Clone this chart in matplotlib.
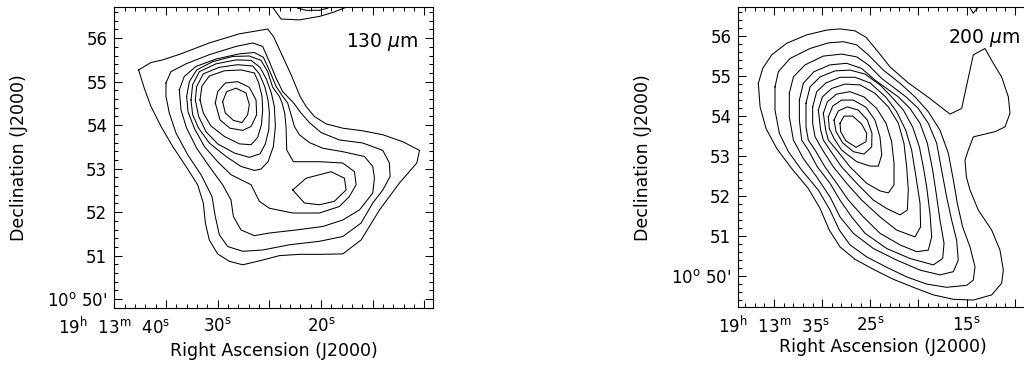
import matplotlib
matplotlib.use("Agg")
import matplotlib.pyplot as plt
from matplotlib.ticker import MultipleLocator, FuncFormatter

plt.rcParams['font.family'] = ['DejaVu Sans']
plt.rcParams['font.size'] = 12
plt.rcParams['mathtext.fontset'] = 'dejavusans'
plt.rcParams['axes.linewidth'] = 0.8

# RA in seconds after 19h13m, Dec in arcmin after +10 deg
# ---- 130 um map, closed contours (outer -> inner, then secondary peak)
c130_ra = [
    [37.65, 36.45, 35.32, 33.55, 30.81, 27.90, 25.16, 24.61, 23.87, 22.90, 22.03, 21.45, 20.65, 19.52,
     17.90, 15.97, 14.03, 12.10, 10.48, 10.74, 12.42, 14.35, 16.13, 17.90, 20.16, 22.10, 24.03, 25.97,
     27.58, 28.87, 30.00, 30.81, 31.19, 31.39, 31.94, 33.06, 34.35, 35.48, 36.45, 37.10],
    [35.00, 34.52, 33.06, 30.81, 28.23, 26.61, 25.65, 25.00, 24.35, 23.71, 22.65, 21.94, 21.13, 20.00,
     18.23, 15.97, 14.03, 13.39, 13.32, 14.03, 15.00, 16.13, 17.90, 20.16, 23.06, 25.65, 27.58, 29.03,
     29.84, 30.23, 30.55, 31.61, 32.90, 34.03, 34.68, 35.00],
    [33.71, 33.23, 32.10, 30.16, 27.90, 26.45, 25.58, 24.94, 24.35, 23.71, 23.23, 22.90, 22.58, 22.10,
     21.13, 19.84, 17.90, 15.81, 15.00, 14.84, 15.00, 16.29, 17.90, 19.84, 22.42, 25.00, 26.45, 27.74,
     28.48, 28.71, 29.52, 30.81, 32.03, 33.00, 33.55],
    [33.00, 32.74, 32.03, 30.48, 28.55, 26.94, 25.81, 25.16, 24.68, 24.03, 23.77, 23.52, 23.39, 23.32,
     22.68, 20.16, 17.90, 16.77, 16.61, 17.26, 18.23, 20.16, 22.74, 25.00, 25.97, 26.77, 28.71, 30.00,
     31.29, 32.26, 32.87],
    [32.58, 32.42, 31.77, 30.16, 28.23, 26.77, 25.90, 25.26, 24.81, 24.52, 24.42, 24.61, 25.13, 25.81,
     26.45, 27.74, 29.19, 30.81, 31.84, 32.42],
    [32.16, 32.03, 31.39, 29.84, 28.06, 26.61, 25.97, 25.45, 25.13, 25.00, 25.06, 25.39, 25.90, 26.94,
     28.39, 30.00, 31.13, 31.84],
    [31.71, 31.52, 30.81, 29.35, 27.74, 26.45, 26.03, 25.71, 25.65, 25.77, 26.13, 26.77, 27.90, 29.35,
     30.65, 31.39],
    [30.23, 30.00, 29.26, 28.06, 26.94, 26.29, 26.23, 26.77, 27.58, 28.81, 29.77],
    [29.52, 29.13, 28.23, 27.26, 26.94, 27.10, 27.65, 28.48, 29.26],
    [22.74, 21.45, 19.03, 17.74, 17.58, 18.71, 20.16, 21.61],
]
c130_dec = [
    [55.27, 55.44, 55.50, 55.64, 55.89, 56.10, 56.21, 56.04, 55.66, 55.16, 54.66, 54.43, 54.20, 54.03,
     53.93, 53.87, 53.78, 53.62, 53.42, 53.13, 52.67, 52.05, 51.36, 51.04, 51.03, 51.03, 51.00, 50.88,
     50.79, 50.87, 51.04, 51.36, 51.75, 52.21, 52.63, 53.05, 53.51, 53.97, 54.43, 54.85],
    [54.97, 55.23, 55.41, 55.62, 55.81, 55.89, 55.81, 55.46, 55.08, 54.77, 54.51, 54.28, 54.06, 53.83,
     53.66, 53.59, 53.42, 53.13, 52.82, 52.51, 52.21, 51.75, 51.44, 51.33, 51.25, 51.13, 51.10, 51.21,
     51.48, 51.90, 52.36, 52.86, 53.32, 53.82, 54.28, 54.66],
    [54.81, 55.12, 55.35, 55.52, 55.64, 55.67, 55.56, 55.23, 54.89, 54.66, 54.51, 54.24, 53.97, 53.78,
     53.60, 53.47, 53.39, 53.28, 53.05, 52.78, 52.44, 52.05, 51.82, 51.67, 51.59, 51.52, 51.46, 51.59,
     51.90, 52.28, 52.63, 53.05, 53.47, 53.93, 54.35],
    [54.66, 55.00, 55.27, 55.46, 55.58, 55.59, 55.49, 55.23, 54.87, 54.66, 54.51, 54.28, 53.97, 53.43,
     53.16, 53.16, 53.13, 52.93, 52.63, 52.36, 52.13, 51.98, 51.98, 52.09, 52.25, 52.63, 52.86, 53.16,
     53.51, 53.93, 54.31],
    [54.58, 54.93, 55.23, 55.41, 55.50, 55.49, 55.33, 55.04, 54.74, 54.43, 53.97, 53.51, 53.16, 52.99,
     52.96, 53.05, 53.28, 53.59, 53.93, 54.24],
    [54.58, 54.89, 55.18, 55.33, 55.39, 55.36, 55.18, 54.89, 54.58, 54.28, 53.89, 53.57, 53.34, 53.26,
     53.36, 53.57, 53.85, 54.20],
    [54.58, 54.90, 55.13, 55.25, 55.27, 55.20, 54.97, 54.66, 54.35, 54.01, 53.72, 53.55, 53.57, 53.74,
     53.98, 54.28],
    [54.51, 54.77, 54.97, 55.00, 54.87, 54.58, 54.24, 53.97, 53.88, 53.93, 54.12],
    [54.54, 54.77, 54.85, 54.74, 54.47, 54.24, 54.06, 54.11, 54.28],
    [52.51, 52.78, 52.93, 52.78, 52.51, 52.25, 52.17, 52.21],
]
# open contours cut by the top edge
c130_open_ra = [
    [24.94, 24.68, 23.87, 22.10, 20.16, 18.87, 17.58, 17.10],
    [22.42, 22.26, 21.45, 20.16, 19.35, 19.19],
]
c130_open_dec = [
    [56.80, 56.71, 56.44, 56.42, 56.50, 56.59, 56.71, 56.77],
    [56.74, 56.69, 56.64, 56.64, 56.69, 56.74],
]

# ---- 200 um map, closed contours (outer -> inner)
c200_ra = [
    [36.63, 36.18, 35.24, 33.69, 31.61, 29.53, 28.15, 26.59, 25.45, 24.34, 22.96, 21.06, 18.98, 16.73,
     15.52, 14.31, 13.10, 12.23, 11.37, 10.67, 10.50, 11.02, 12.06, 14.31, 14.83, 15.17, 15.03, 14.65,
     13.79, 12.40, 11.54, 11.19, 11.37, 12.40, 14.31, 16.38, 18.46, 20.54, 22.61, 24.69, 26.59, 28.15,
     29.26, 30.22, 31.44, 33.17, 34.72, 35.83, 36.45],
    [34.90, 34.55, 33.34, 31.26, 29.36, 27.80, 26.42, 25.21, 23.65, 21.92, 20.36, 18.98, 17.77, 16.90,
     16.38, 15.97, 15.42, 14.65, 14.13, 14.31, 15.00, 17.08, 19.15, 21.23, 23.30, 25.38, 27.11, 28.22,
     29.19, 30.40, 32.13, 33.51, 34.45, 34.90],
    [33.41, 32.99, 31.78, 29.88, 27.98, 26.42, 25.21, 23.82, 22.44, 21.30, 20.02, 18.98, 18.11, 17.60,
     17.08, 16.56, 16.04, 15.87, 16.38, 17.77, 19.84, 22.27, 24.69, 26.76, 28.15, 29.19, 30.57, 31.96,
     32.99, 33.41],
    [32.37, 31.96, 30.85, 29.19, 27.46, 25.90, 24.52, 23.30, 22.09, 20.88, 19.84, 19.08, 18.53, 18.11,
     17.77, 17.35, 17.49, 18.46, 20.88, 23.30, 25.55, 26.94, 28.15, 29.19, 30.50, 31.44, 32.13, 32.37],
    [31.68, 31.26, 30.22, 28.67, 27.11, 25.55, 24.00, 22.79, 21.57, 20.61, 19.91, 19.50, 19.15, 18.81,
     18.63, 18.98, 20.19, 21.92, 24.00, 25.73, 27.28, 28.49, 29.71, 30.74, 31.44, 31.68],
    [30.99, 30.57, 29.60, 28.15, 26.59, 25.03, 23.41, 22.27, 21.33, 20.71, 20.26, 19.84, 19.78, 20.36,
     22.27, 24.00, 25.90, 27.46, 28.84, 29.95, 30.74, 30.99],
    [30.40, 29.98, 29.01, 27.63, 26.07, 24.52, 23.13, 22.09, 21.51, 21.23, 21.06, 21.16, 21.92, 23.30,
     24.69, 26.42, 27.98, 29.19, 29.88, 30.16],
    [29.88, 29.46, 28.49, 27.11, 25.66, 24.34, 23.37, 22.79, 22.54, 22.54, 23.13, 24.00, 25.38, 27.11,
     28.49, 29.36, 29.64],
    [29.36, 28.91, 27.98, 26.76, 25.45, 24.52, 24.00, 23.82, 24.17, 25.03, 26.42, 27.98, 28.77, 29.26],
    [28.77, 28.32, 27.39, 26.25, 25.31, 24.83, 24.86, 25.66, 26.76, 27.87, 28.56],
    [28.15, 27.73, 26.83, 25.90, 25.38, 25.45, 26.49, 27.53, 28.08],
]
c200_dec = [
    [54.82, 55.19, 55.53, 55.82, 56.03, 56.15, 56.18, 56.13, 55.97, 55.65, 55.23, 54.83, 54.47, 54.05,
     54.19, 55.53, 55.69, 55.32, 54.98, 54.48, 54.07, 53.73, 53.61, 53.48, 53.15, 52.90, 52.48, 52.15,
     51.65, 51.15, 50.65, 50.15, 49.82, 49.53, 49.40, 49.42, 49.53, 49.72, 49.92, 50.17, 50.42, 50.73,
     51.15, 51.69, 52.19, 52.69, 53.19, 53.69, 54.23],
    [54.73, 55.11, 55.44, 55.69, 55.83, 55.86, 55.78, 55.53, 55.15, 54.82, 54.48, 54.11, 53.65, 53.07,
     52.40, 51.82, 51.23, 50.73, 50.23, 49.90, 49.77, 49.72, 49.80, 49.98, 50.22, 50.48, 50.78, 51.15,
     51.65, 52.15, 52.65, 53.11, 53.57, 54.15],
    [54.57, 54.98, 55.28, 55.50, 55.55, 55.48, 55.28, 54.94, 54.69, 54.48, 54.19, 53.82, 53.32, 52.65,
     51.98, 51.40, 50.90, 50.40, 50.11, 50.03, 50.15, 50.40, 50.69, 51.07, 51.48, 51.98, 52.48, 52.94,
     53.40, 53.98],
    [54.40, 54.82, 55.11, 55.28, 55.32, 55.19, 54.90, 54.69, 54.48, 54.19, 53.82, 53.32, 52.65, 51.98,
     51.40, 50.82, 50.44, 50.28, 50.44, 50.69, 51.07, 51.48, 51.90, 52.32, 52.73, 53.15, 53.40, 53.90],
    [54.32, 54.73, 54.98, 55.13, 55.15, 55.05, 54.78, 54.48, 54.15, 53.73, 53.23, 52.73, 52.23, 51.57,
     50.98, 50.65, 50.61, 50.78, 51.07, 51.48, 51.90, 52.32, 52.73, 53.15, 53.40, 53.73],
    [54.23, 54.61, 54.83, 54.97, 54.97, 54.83, 54.48, 54.11, 53.65, 53.15, 52.48, 51.82, 51.23, 50.98,
     51.15, 51.48, 51.90, 52.32, 52.73, 53.15, 53.48, 53.82],
    [54.15, 54.48, 54.69, 54.80, 54.78, 54.57, 54.23, 53.82, 53.32, 52.73, 52.15, 51.65, 51.53, 51.69,
     51.90, 52.32, 52.73, 53.15, 53.40, 53.65],
    [54.07, 54.36, 54.55, 54.61, 54.48, 54.19, 53.82, 53.36, 52.82, 52.28, 52.08, 52.13, 52.32, 52.73,
     53.15, 53.40, 53.65],
    [53.98, 54.25, 54.40, 54.40, 54.22, 53.90, 53.48, 53.03, 52.75, 52.75, 52.86, 53.15, 53.44, 53.69],
    [53.90, 54.13, 54.23, 54.15, 53.90, 53.57, 53.23, 53.05, 53.11, 53.33, 53.61],
    [53.82, 54.00, 54.00, 53.80, 53.57, 53.36, 53.22, 53.38, 53.61],
]
c200_open_ra = [[14.83, 14.31, 13.62]]
c200_open_dec = [[56.78, 56.57, 56.78]]

ra_labels_130 = {40: '19$^{\\rm h}$  13$^{\\rm m}$  40$^{\\rm s}$', 30: '30$^{\\rm s}$', 20: '20$^{\\rm s}$'}
ra_labels_200 = {35: '19$^{\\rm h}$  13$^{\\rm m}$  35$^{\\rm s}$', 25: '25$^{\\rm s}$', 15: '15$^{\\rm s}$'}


def dec_fmt(v, pos):
    v = int(round(v))
    if v == 50:
        return "10$^{\\rm o}$ 50'"
    return '%d' % v


def draw_map(ax, ras, decs, open_ras, open_decs):
    for ra, dec in zip(ras, decs):
        ax.plot(ra + ra[:1], dec + dec[:1], color='k', lw=0.75)
    for ra, dec in zip(open_ras, open_decs):
        ax.plot(ra, dec, color='k', lw=0.75)


def setup(ax, xlim, ylim, xlabels):
    ax.set_xlim(*xlim)
    ax.set_ylim(*ylim)
    ax.xaxis.set_major_locator(MultipleLocator(5))
    ax.xaxis.set_minor_locator(MultipleLocator(1))
    ax.yaxis.set_major_locator(MultipleLocator(1))
    ax.yaxis.set_minor_locator(MultipleLocator(0.2))
    ax.xaxis.set_major_formatter(FuncFormatter(lambda v, p: xlabels.get(int(round(v)), '')))
    ax.yaxis.set_major_formatter(FuncFormatter(dec_fmt))
    ax.tick_params(which='both', direction='in', top=True, right=True, width=0.75, colors='k')
    ax.tick_params(which='major', length=5.5)
    ax.tick_params(which='minor', length=2.8)
    ax.tick_params(axis='x', pad=6)
    ax.tick_params(axis='y', pad=5)
    ax.tick_params(axis='both', labelsize=12)
    ax.set_xlabel('Right Ascension (J2000)', fontsize=12.5)
    ax.set_ylabel('Declination (J2000)', fontsize=12.5)


fig = plt.figure(figsize=(10.24, 3.66), dpi=100)
ax1 = fig.add_axes([0.1116, 0.1577, 0.3115, 0.8224])
ax2 = fig.add_axes([0.7210, 0.1604, 0.2988, 0.8197])

draw_map(ax1, c130_ra, c130_dec, c130_open_ra, c130_open_dec)
setup(ax1, (40.0, 9.15), (49.79, 56.71), ra_labels_130)
ax1.text(0.952, 0.885, '130 $\\mu$m', transform=ax1.transAxes, ha='right', va='center', fontsize=13.5)
ax1.yaxis.set_label_coords(-0.27, 0.5)
ax1.xaxis.set_label_coords(0.5, -0.112)

draw_map(ax2, c200_ra, c200_dec, c200_open_ra, c200_open_dec)
setup(ax2, (38.71, 6.94), (49.22, 56.72), ra_labels_200)
ax2.text(0.685, 0.896, '200 $\\mu$m', transform=ax2.transAxes, ha='left', va='center', fontsize=13.5)
ax2.yaxis.set_label_coords(-0.282, 0.5)
ax2.xaxis.set_label_coords(0.471, -0.102)

fig.savefig('out.png', dpi=100)
